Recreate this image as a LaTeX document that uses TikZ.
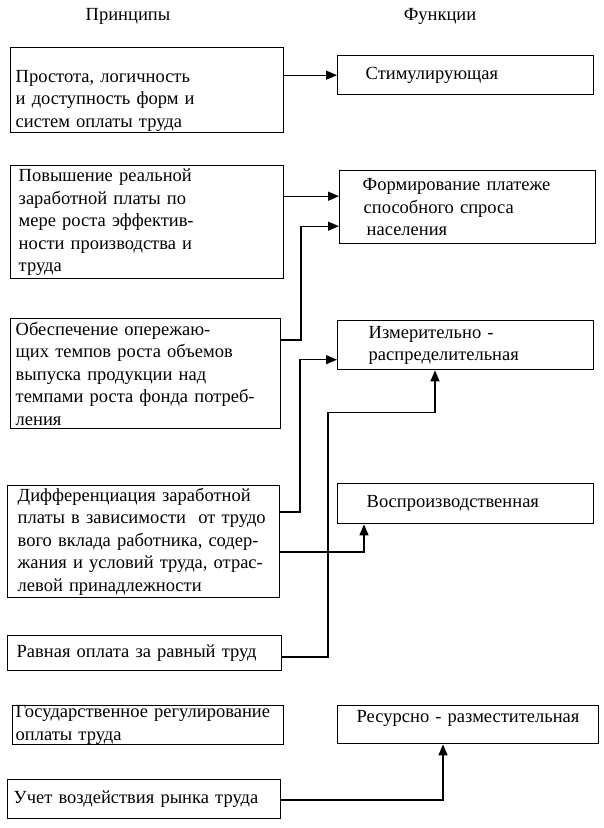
\documentclass[tikz,border=0pt]{standalone}
\usepackage{fontspec}
\setmainfont{Liberation Serif}
\usetikzlibrary{arrows.meta,calc}

\begin{document}
\begin{tikzpicture}[x=1pt,y=-1pt]
\tikzstyle{every node}+=[inner sep=0pt]
\tikzstyle{txt}=[font=\fontsize{18.5}{22.5}\selectfont]
\tikzstyle{box}=[txt, draw, line width=1.4pt, anchor=north west, align=left]
\tikzstyle{arr}=[line width=1.3pt, -{Triangle[length=11pt,width=9pt]}]
\useasboundingbox (0,0) rectangle (604,828);
\node [txt] (tp) at (128,16) {Принципы};
\node [txt] (tf) at (440,16) {Функции};
% principles
\node [box, minimum width=273, minimum height=85, inner xsep=5, text width=263] (p1) at (10,47)
  {\rule{0pt}{33pt}Простота, логичность\\и доступность форм и\\систем оплаты труда};
\node [box, minimum width=273, minimum height=113, inner xsep=8, text width=257] (p2) at (10,165)
  {Повышение реальной\\заработной платы по\\мере роста эффектив-\\ности производства и\\труда};
\node [box, minimum width=270, minimum height=110, inner xsep=5, text width=260] (p3) at (10,318)
  {Обеспечение опережаю-\\щих темпов роста объемов\\выпуска продукции над\\темпами~роста~фонда~потреб-\\ления};
\node [box, minimum width=272, minimum height=112, inner xsep=10, text width=252] (p4) at (7,485)
  {Дифференциация~заработной\\платы~в~зависимости\ \ от~трудо\\вого~вклада~работника,~содер-\\жания~и~условий~труда,~отрас-\\левой принадлежности};
\node [box, minimum width=274, minimum height=35, inner xsep=9, text width=256] (p5) at (7,635)
  {Равная оплата за равный труд};
\node [box, minimum width=271, minimum height=38, inner xsep=3, text width=265] (p6) at (12,705)
  {Государственное~регулирование\\оплаты труда};
\node [box, minimum width=273, minimum height=39, inner xsep=6, text width=261] (p7) at (7,779)
  {Учет воздействия рынка труда};
% functions
\node [box, minimum width=256, minimum height=39, inner xsep=28, text width=200] (f1) at (337,55)
  {Стимулирующая};
\node [box, minimum width=256, minimum height=73, inner xsep=23, text width=210] (f2) at (339,170)
  {Формирование платеже\\\hspace*{1pt}способного спроса\\\hspace*{4pt}населения};
\node [box, minimum width=256, minimum height=49, inner xsep=31, text width=194] (f3) at (337,320)
  {Измерительно -\\распределительная};
\node [box, minimum width=256, minimum height=40, inner xsep=29, text width=198] (f4) at (337,483)
  {Воспроизводственная};
\node [box, minimum width=261, minimum height=38, inner xsep=19, text width=223] (f5) at (337,705)
  {\mbox{Ресурсно - разместительная}\rule[-16pt]{0pt}{1pt}};
% links
\coordinate (a2) at ($(f2.west)+(0,-11)$);
\coordinate (a3) at ($(f2.west)+(0,19)$);
\coordinate (a4) at ($(f3.west)+(0,14.5)$);
\draw [arr] (p1.east |- f1.west) -- (f1.west);
\draw [arr] (p2.east |- a2) -- (a2);
\draw [arr] ($(p3.north east)+(0,22)$) -| ($(a3)+(-38,0)$) -- (a3);
\draw [arr] ($(p4.north east)+(0,27)$) -| ($(a4)+(-37,0)$) -- (a4);
\draw [arr] ($(p4.north east)+(0,67)$) -| ($(f4.south west)+(27,0)$);
\draw [arr] ($(p5.north east)+(0,22)$) -| ($(f3.south west)+(-9,42)$) -| ($(f3.south west)+(98,0)$);
\draw [arr] ($(p7.north east)+(0,21)$) -| ($(f5.south west)+(106,0)$);
\end{tikzpicture}
\end{document}
